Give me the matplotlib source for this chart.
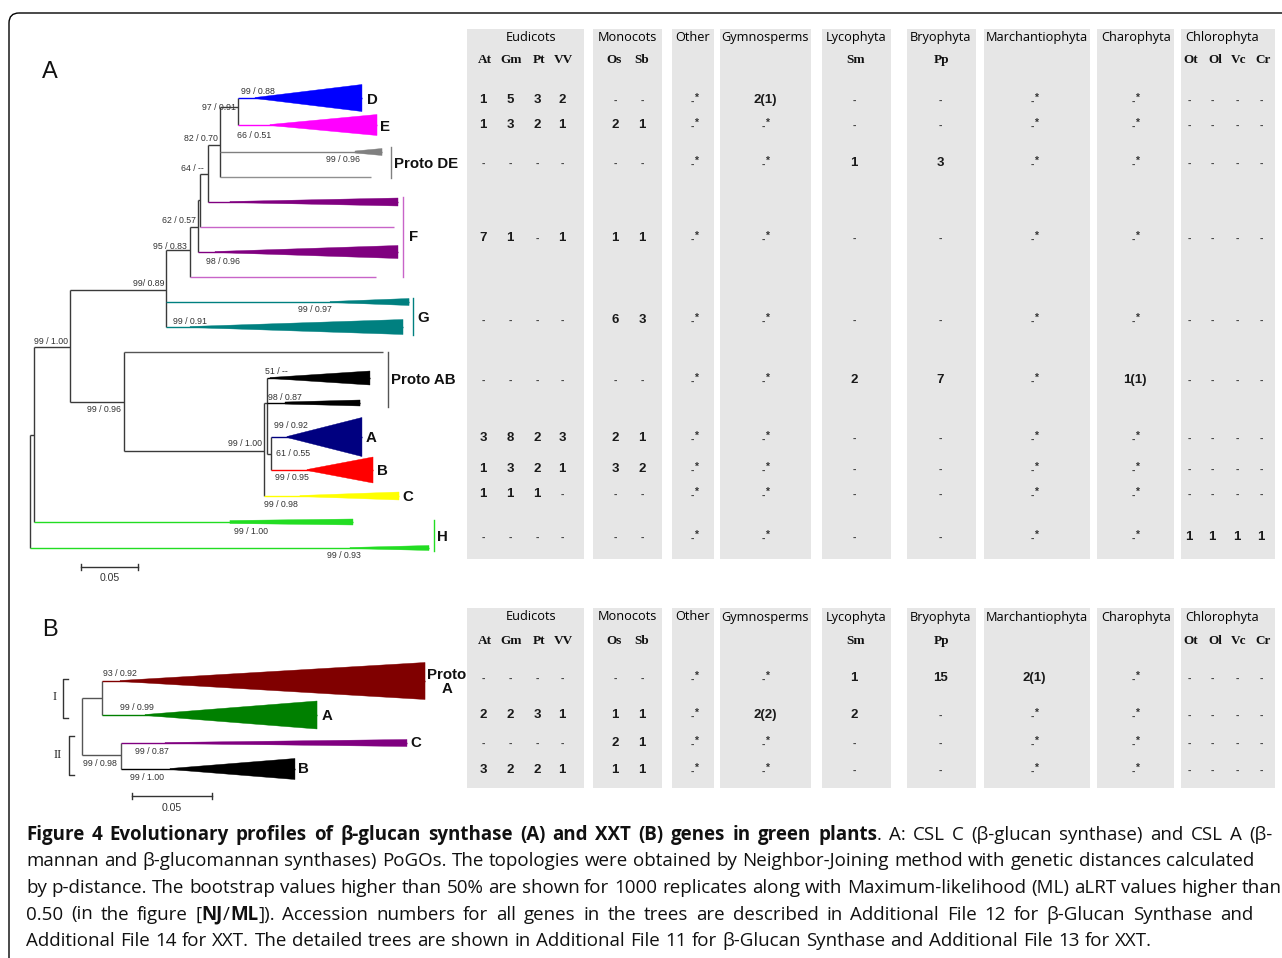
import matplotlib
matplotlib.use("Agg")
import matplotlib.pyplot as plt
from matplotlib.patches import Polygon, Rectangle, FancyBboxPatch

plt.rcParams['font.family'] = ['Liberation Sans', 'DejaVu Sans']

W, H = 1282, 958
fig = plt.figure(figsize=(W / 100, H / 100), dpi=100)
ov = fig.add_axes([0, 0, 1, 1])
ov.set_xlim(0, W)
ov.set_ylim(H, 0)
ov.axis('off')

# ------------------------------------------------------------------ tree A data
treeA_nodes = ["root", "n1", "n2", "n3", "n4", "n5", "n6", "n7", "n8", "n9", "n10", "n11", "n12", "n13"]
treeA_parent = [None, "root", "n1", "n2", "n3", "n4", "n5", "n6", "n7", "n8", "n2", "n10", "n11", "n12"]
treeA_depth = [0.0, 0.0035, 0.0351, 0.1193, 0.1404, 0.1474, 0.1491, 0.1561, 0.1667, 0.1825,
               0.0825, 0.2053, 0.2079, 0.2114]
treeA_row = [None, 435, 347, 290, 250, 227, 200, 174, 145, 107, 402, 451, 403, 454]

leafA_names = ["D", "E", "PDE1", "PDE2", "F1", "F2", "F3", "F4", "G1", "G2",
               "PAB0", "PAB1", "PAB2", "A", "B", "C", "H1", "H2"]
leafA_parent = ["n9", "n9", "n8", "n8", "n7", "n6", "n5", "n4", "n3", "n3",
                "n10", "n12", "n12", "n13", "n13", "n11", "n1", "root"]
leafA_depth = [0.2912, 0.3044, 0.3088, 0.2991, 0.3228, 0.3193, 0.3228, 0.3035, 0.3325, 0.3272,
               0.3096, 0.2982, 0.2895, 0.2912, 0.3009, 0.3237, 0.2833, 0.3500]
leafA_row = [98, 125, 152, 177, 202, 227, 252, 277, 302, 327, 352, 378, 403, 437, 470, 496, 522, 548]
leafA_wedge_start = [0.1974, 0.2105, 0.2851, None, 0.1754, None, 0.1623, None, 0.2632, 0.1404,
                     None, 0.2105, 0.2237, 0.2254, 0.2430, 0.2368, 0.1754, 0.2807]
leafA_h0 = [0.5, 0.5, 1.0, 0, 0.5, 0, 0.5, 0, 0.5, 0.5, 0, 0.5, 1.0, 0.5, 0.5, 0.5, 1.5, 0.5]
leafA_h1 = [13.5, 10.5, 3.5, 0, 4.0, 0, 6.5, 0, 3.5, 7.5, 0, 7.0, 3.0, 19.5, 13.0, 4.0, 3.0, 2.5]
leafA_color = ["#0000ff", "#ff00ff", "#808080", "#909090", "#800080", "#c864c8", "#800080", "#c864c8",
               "#008080", "#008080", "#555555", "#000000", "#000000", "#000080", "#ff0000", "#ffff00",
               "#22dd22", "#22dd22"]

cladeA_names = ["D", "E", "Proto DE", "F", "G", "Proto AB", "A", "B", "C", "H"]
cladeA_x = [367, 380, 394, 409, 417, 391, 366, 377, 402, 437]
cladeA_y = [100, 127, 164, 237, 318, 380, 438, 471, 497, 537]
cladeA_bars = [None, None, (391, 147, 178, "#808080"), (403, 197, 277, "#c864c8"),
               (413, 298, 335, "#008080"), (388, 352, 407, "#555555"), None, None, None,
               (434, 520, 551, "#22dd22")]

supportA_text = ["99 / 0.88", "97 / 0.91", "66 / 0.51", "82 / 0.70", "99 / 0.96", "64 / --",
                 "62 / 0.57", "95 / 0.83", "98 / 0.96", "99/ 0.89", "99 / 0.97", "99 / 0.91",
                 "99 / 1.00", "99 / 0.96", "51 / --", "98 / 0.87", "99 / 0.92", "99 / 1.00",
                 "61 / 0.55", "99 / 0.95", "99 / 0.98", "99 / 1.00", "99 / 0.93"]
supportA_x = [241, 202, 237, 184, 326, 181, 162, 153, 206, 133, 298, 173, 34, 87, 265, 268, 274, 228,
              276, 275, 264, 234, 327]
supportA_y = [91, 107, 135, 138, 159, 168, 220, 246, 261, 283, 310, 322, 341, 409, 372, 397, 426, 443,
              453, 477, 504, 531, 556]

# ------------------------------------------------------------------ tree B data
treeB_nodes = ["root", "nI", "nII"]
treeB_parent = [None, "root", "root"]
treeB_depth = [0.0, 0.0125, 0.0244]
treeB_row = [None, 698, 755]

leafB_names = ["Proto A", "A", "C", "B"]
leafB_parent = ["nI", "nI", "nII", "nII"]
leafB_depth = [0.2144, 0.1469, 0.2031, 0.1331]
leafB_row = [681, 715, 743, 769]
leafB_wedge_start = [0.0238, 0.0394, 0.0519, 0.0550]
leafB_h0 = [0.5, 0.5, 0.5, 0.5]
leafB_h1 = [18.5, 14.0, 3.5, 10.5]
leafB_color = ["#800000", "#008000", "#800080", "#000000"]

cladeB_names = ["Proto\nA", "A", "C", "B"]
cladeB_x = [447, 322, 410, 298]
cladeB_y = [682, 716, 743, 769]

supportB_text = ["93 / 0.92", "99 / 0.99", "99 / 0.87", "99 / 0.98", "99 / 1.00"]
supportB_x = [103, 120, 135, 83, 130]
supportB_y = [674, 707, 751, 763, 777]

# ------------------------------------------------------------------ table layout / data
groups = ["Eudicots", "Monocots", "Other", "Gymnosperms", "Lycophyta", "Bryophyta",
          "Marchantiophyta", "Charophyta", "Chlorophyta"]
group_left = [467, 593, 672, 720, 822, 907, 984, 1097, 1181]
group_right = [584, 662, 714, 811, 891, 976, 1090, 1174, 1275]
group_title_x = [531, 627, 693, 765, 856, 940, 1037, 1136, 1222]
species = ["At", "Gm", "Pt", "VV", "Os", "Sb", "Sm", "Pp", "Ot", "Ol", "Vc", "Cr"]
species_x = [485, 511, 539, 563, 614, 642, 856, 941, 1191, 1215, 1239, 1263]
columns = ["At", "Gm", "Pt", "VV", "Os", "Sb", "Other", "Gymno", "Sm", "Pp", "March", "Charo",
           "Ot", "Ol", "Vc", "Cr"]
col_x = [483, 510, 537, 562, 615, 642, 694, 765, 854, 940, 1034, 1135, 1189, 1212, 1237, 1261]

tA_rows = ["D", "E", "Proto DE", "F", "G", "Proto AB", "A", "B", "C", "H"]
tA_row_y = [100, 125, 163, 238, 320, 380, 438, 469, 494, 537]
tA_At = ["1", "1", "-", "7", "-", "-", "3", "1", "1", "-"]
tA_Gm = ["5", "3", "-", "1", "-", "-", "8", "3", "1", "-"]
tA_Pt = ["3", "2", "-", "-", "-", "-", "2", "2", "1", "-"]
tA_VV = ["2", "1", "-", "1", "-", "-", "3", "1", "-", "-"]
tA_Os = ["-", "2", "-", "1", "6", "-", "2", "3", "-", "-"]
tA_Sb = ["-", "1", "-", "1", "3", "-", "1", "2", "-", "-"]
tA_Other = ["-*", "-*", "-*", "-*", "-*", "-*", "-*", "-*", "-*", "-*"]
tA_Gymno = ["2(1)", "-*", "-*", "-*", "-*", "-*", "-*", "-*", "-*", "-*"]
tA_Sm = ["-", "-", "1", "-", "-", "2", "-", "-", "-", "-"]
tA_Pp = ["-", "-", "3", "-", "-", "7", "-", "-", "-", "-"]
tA_March = ["-*", "-*", "-*", "-*", "-*", "-*", "-*", "-*", "-*", "-*"]
tA_Charo = ["-*", "-*", "-*", "-*", "-*", "1(1)", "-*", "-*", "-*", "-*"]
tA_Ot = ["-", "-", "-", "-", "-", "-", "-", "-", "-", "1"]
tA_Ol = ["-", "-", "-", "-", "-", "-", "-", "-", "-", "1"]
tA_Vc = ["-", "-", "-", "-", "-", "-", "-", "-", "-", "1"]
tA_Cr = ["-", "-", "-", "-", "-", "-", "-", "-", "-", "1"]

tB_rows = ["Proto A", "A", "C", "B"]
tB_row_y = [678, 715, 743, 770]
tB_At = ["-", "2", "-", "3"]
tB_Gm = ["-", "2", "-", "2"]
tB_Pt = ["-", "3", "-", "2"]
tB_VV = ["-", "1", "-", "1"]
tB_Os = ["-", "1", "2", "1"]
tB_Sb = ["-", "1", "1", "1"]
tB_Other = ["-*", "-*", "-*", "-*"]
tB_Gymno = ["-*", "2(2)", "-*", "-*"]
tB_Sm = ["1", "2", "-", "-"]
tB_Pp = ["15", "-", "-", "-"]
tB_March = ["2(1)", "-*", "-*", "-*"]
tB_Charo = ["-*", "-*", "-*", "-*"]
tB_Ot = ["-", "-", "-", "-"]
tB_Ol = ["-", "-", "-", "-"]
tB_Vc = ["-", "-", "-", "-"]
tB_Cr = ["-", "-", "-", "-"]

tableA = [tA_At, tA_Gm, tA_Pt, tA_VV, tA_Os, tA_Sb, tA_Other, tA_Gymno, tA_Sm, tA_Pp, tA_March,
          tA_Charo, tA_Ot, tA_Ol, tA_Vc, tA_Cr]
tableB = [tB_At, tB_Gm, tB_Pt, tB_VV, tB_Os, tB_Sb, tB_Other, tB_Gymno, tB_Sm, tB_Pp, tB_March,
          tB_Charo, tB_Ot, tB_Ol, tB_Vc, tB_Cr]

caption_lines = [
    [("Figure 4 Evolutionary profiles of \u03b2-glucan synthase (A) and XXT (B) genes in green plants", True),
     (". A: CSL C (\u03b2-glucan synthase) and CSL A (\u03b2-", False)],
    [("mannan and \u03b2-glucomannan synthases) PoGOs. The topologies were obtained by Neighbor-Joining method with genetic distances calculated", False)],
    [("by p-distance. The bootstrap values higher than 50% are shown for 1000 replicates along with Maximum-likelihood (ML) aLRT values higher than", False)],
    [("0.50 (in the figure [", False), ("NJ", True), ("/", False), ("ML", True),
     ("]). Accession numbers for all genes in the trees are described in Additional File 12 for \u03b2-Glucan Synthase and", False)],
    [("Additional File 14 for XXT. The detailed trees are shown in Additional File 11 for \u03b2-Glucan Synthase and Additional File 13 for XXT.", False)],
]
caption_baseline = [840, 866.5, 893, 919.5, 946]
caption_right = [1272, 1254, 1277, 1253, 1152]

# ------------------------------------------------------------------ frame
frame = FancyBboxPatch((9, 13), 1600, 1200, boxstyle="round,pad=0,rounding_size=10",
                       fill=False, ec="black", lw=1.0)
ov.add_patch(frame)

# ------------------------------------------------------------------ tables
def draw_table(top, bottom, title_y, sp_y, data, row_y):
    for l, r in zip(group_left, group_right):
        ov.add_patch(Rectangle((l, top), r - l, bottom - top, fc="#e6e6e6", ec="none"))
    for g, gx in zip(groups, group_title_x):
        ov.text(gx, title_y, g, ha="center", va="center", fontsize=9.2,
                family=["Open Sans", "DejaVu Sans"], color="#000000")
    for s, sx in zip(species, species_x):
        ov.text(sx, sp_y, s, ha="center", va="center", fontsize=9.5, fontweight="bold",
                family=["Liberation Serif", "DejaVu Serif"], color="#111111")
    for cx, col in zip(col_x, data):
        for y, v in zip(row_y, col):
            if v == "-":
                ov.text(cx, y + 1, "-", ha="center", va="center", fontsize=7.5, fontweight="bold",
                        color="#444444")
            elif v == "-*":
                ov.text(cx - 1.5, y + 2, "-", ha="center", va="center", fontsize=7.5,
                        fontweight="bold", color="#444444")
                ov.text(cx + 2.5, y - 2, "*", ha="center", va="center", fontsize=7.5,
                        fontweight="bold", color="#333333")
            else:
                ov.text(cx, y, v, ha="center", va="center", fontsize=9.5, fontweight="bold",
                        color="#1a1a1a")

draw_table(29, 559, 37, 60, tableA, tA_row_y)
draw_table(608, 788, 617, 641, tableB, tB_row_y)

# ------------------------------------------------------------------ trees
def tree_axes(x0_px, px_per_unit):
    a = fig.add_axes([0, 0, 1, 1], facecolor="none")
    a.set_xlim(-x0_px / px_per_unit, (W - x0_px) / px_per_unit)
    a.set_ylim(H, 0)
    a.axis("off")
    return a


def draw_tree(a, nodes, parent, depth, row, lnames, lparent, ldepth, lrow, wstart, h0s, h1s,
              colors, line_color):
    nd = dict(zip(nodes, depth))
    nr = dict(zip(nodes, row))
    kids = {n: [] for n in nodes}
    for n, p in zip(nodes, parent):
        if p is not None:
            kids[p].append(nr[n])
    for p, r in zip(lparent, lrow):
        kids[p].append(r)
    for n in nodes:
        ys = kids[n]
        a.plot([nd[n], nd[n]], [min(ys), max(ys)], color=line_color, lw=1.0,
               solid_capstyle="butt")
    for n, p in zip(nodes, parent):
        if p is not None:
            a.plot([nd[p], nd[n]], [nr[n], nr[n]], color=line_color, lw=1.0,
                   solid_capstyle="butt")
    for p, d, r, ws, h0, h1, c in zip(lparent, ldepth, lrow, wstart, h0s, h1s, colors):
        a.plot([nd[p], d], [r, r], color=c, lw=1.0, solid_capstyle="butt")
        if ws is not None:
            a.add_patch(Polygon([(ws, r - h0), (d, r - h1), (d, r + h1), (ws, r + h0)],
                                closed=True, fc=c, ec=c, lw=0.3))


axA = tree_axes(30, 1140)
draw_tree(axA, treeA_nodes, treeA_parent, treeA_depth, treeA_row, leafA_names, leafA_parent,
          leafA_depth, leafA_row, leafA_wedge_start, leafA_h0, leafA_h1, leafA_color, "#3a3a3a")
axB = tree_axes(82, 1600)
draw_tree(axB, treeB_nodes, treeB_parent, treeB_depth, treeB_row, leafB_names, leafB_parent,
          leafB_depth, leafB_row, leafB_wedge_start, leafB_h0, leafB_h1, leafB_color, "#555555")

# scale bars (0.05 substitutions per site)
scale_len = 0.05
for a, x0, y, ty in [(axA, 0.0447, 567, 578), (axB, 0.03125, 796, 808)]:
    a.plot([x0, x0 + scale_len], [y, y], color="#333333", lw=1.0)
    a.plot([x0, x0], [y - 3, y + 3], color="#333333", lw=1.0)
    a.plot([x0 + scale_len, x0 + scale_len], [y - 3, y + 3], color="#333333", lw=1.0)
    a.text(x0 + scale_len / 2, ty, "0.05", ha="center", va="center", fontsize=7.6, color="#333333")

# clade bars and labels
for name, x, y, bar in zip(cladeA_names, cladeA_x, cladeA_y, cladeA_bars):
    if bar is not None:
        bx, y0, y1, bc = bar
        ov.plot([bx, bx], [y0, y1], color=bc, lw=1.0)
    ov.text(x, y, name, ha="left", va="center", fontsize=10.8, fontweight="bold", color="#111111")
for name, x, y in zip(cladeB_names, cladeB_x, cladeB_y):
    if "\n" in name:
        ov.text(x, y, name, ha="center", va="center", fontsize=10.8, fontweight="bold",
                color="#111111", linespacing=1.0)
    else:
        ov.text(x, y, name, ha="left", va="center", fontsize=10.8, fontweight="bold", color="#111111")

for s, x, y in zip(supportA_text, supportA_x, supportA_y):
    ov.text(x, y, s, ha="left", va="center", fontsize=6.3, color="#333333")
for s, x, y in zip(supportB_text, supportB_x, supportB_y):
    ov.text(x, y, s, ha="left", va="center", fontsize=6.3, color="#333333")

# group brackets in tree B
for lab, bx, y0, y1, lx, ly in [("I", 63, 679, 718, 55, 697), ("II", 69, 736, 775, 58, 755)]:
    ov.plot([bx + 5, bx, bx, bx + 5], [y0, y0, y1, y1], color="#333333", lw=1.0)
    ov.text(lx, ly, lab, ha="center", va="center", fontsize=9, family=["Liberation Serif"],
            color="#222222")

# panel letters
ov.text(50, 72, "A", ha="center", va="center", fontsize=17, color="#111111")
ov.text(50, 630, "B", ha="center", va="center", fontsize=17, color="#111111")

# ------------------------------------------------------------------ caption (justified by word spacing)
cap_family = ["Open Sans", "DejaVu Sans"]
renderer = fig.canvas.get_renderer()


def piece_width(s, bold, size):
    t = ov.text(0, 0, s, fontsize=size, fontweight="bold" if bold else "normal", family=cap_family)
    w = t.get_window_extent(renderer).width
    t.remove()
    return w


def split_words(segs):
    words = [[]]
    for s, b in segs:
        parts = s.split(" ")
        for i, p in enumerate(parts):
            if i > 0:
                words.append([])
            if p:
                words[-1].append((p, b))
    return [w for w in words if w]

cap_left = 26
sp12 = piece_width("a b", False, 12) - piece_width("ab", False, 12)
ratios = []
for segs, xr in zip(caption_lines, caption_right):
    words = split_words(segs)
    nat = sum(piece_width(p, b, 12) for w in words for p, b in w) + sp12 * (len(words) - 1)
    ratios.append((xr - cap_left) / nat)
cap_size = 12 * min(ratios)
space_w = piece_width("a b", False, cap_size) - piece_width("ab", False, cap_size)

for segs, yb, xr in zip(caption_lines, caption_baseline, caption_right):
    words = split_words(segs)
    widths = [[piece_width(p, b, cap_size) for p, b in w] for w in words]
    natural = sum(sum(ws) for ws in widths) + space_w * (len(words) - 1)
    extra = (xr - cap_left - natural) / (len(words) - 1)
    gap = space_w + max(extra, 0)
    x = cap_left
    for w, ws in zip(words, widths):
        for (p, b), pw in zip(w, ws):
            ov.text(x, yb, p, fontsize=cap_size, fontweight="bold" if b else "normal",
                    family=cap_family, ha="left", va="baseline", color="#111111")
            x += pw
        x += gap

fig.savefig("out.png", dpi=100)
